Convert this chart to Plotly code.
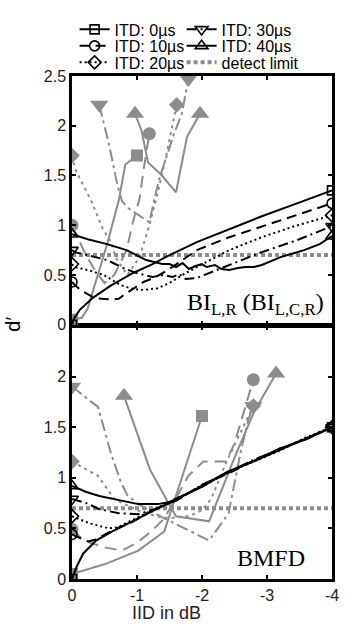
import plotly.graph_objects as go

# ---------------- data ----------------
legend_labels = ["ITD: 0µs", "ITD: 10µs", "ITD: 20µs", "ITD: 30µs", "ITD: 40µs"]
detect_label = "detect limit"
x_tickvals = [0, -1, -2, -3, -4]
x_ticktext = ["0", "-1", "-2", "-3", "-4"]
y_tickvals = [0, 0.5, 1, 1.5, 2, 2.5]
y_ticktext = ["0", "0.5", "1", "1.5", "2", "2.5"]

detect_x = [0, -4]
detect_y = [0.7, 0.7]

# top panel (BI_L,R) - black model curves
top_b0_x = [0, -0.04, -0.12, -0.32, -0.59, -0.94, -1.24, -1.44, -1.92, -2.42, -2.92, -3.42, -4.0]
top_b0_y = [0.0, 0.07, 0.15, 0.27, 0.39, 0.52, 0.61, 0.68, 0.83, 0.96, 1.09, 1.21, 1.35]
top_b10_x = [0, -0.04, -0.15, -0.3, -0.45, -0.6, -0.72, -0.8, -0.94, -1.1, -1.29, -1.5, -1.7, -1.92, -2.42, -2.92, -3.42, -3.76, -4.0]
top_b10_y = [0.43, 0.40, 0.34, 0.285, 0.26, 0.255, 0.26, 0.30, 0.36, 0.43, 0.48, 0.56, 0.65, 0.75, 0.88, 0.99, 1.10, 1.17, 1.22]
top_b20_x = [0, -0.04, -0.24, -0.49, -0.62, -0.74, -0.94, -1.1, -1.31, -1.5, -1.7, -1.92, -2.42, -2.92, -3.42, -4.0]
top_b20_y = [0.61, 0.58, 0.55, 0.50, 0.45, 0.40, 0.36, 0.35, 0.365, 0.42, 0.50, 0.58, 0.75, 0.88, 0.99, 1.10]
top_b30_x = [0, -0.04, -0.24, -0.54, -0.79, -0.99, -1.24, -1.4, -1.55, -1.65, -1.75, -1.85, -1.92, -2.42, -2.92, -3.42, -4.0]
top_b30_y = [0.75, 0.73, 0.70, 0.65, 0.57, 0.52, 0.48, 0.50, 0.48, 0.51, 0.46, 0.47, 0.47, 0.60, 0.73, 0.84, 0.99]
top_b40_x = [0, -0.24, -0.54, -0.84, -1.14, -1.39, -1.5, -1.6, -1.7, -1.8, -1.9, -2.0, -2.07, -2.2, -2.3, -2.42, -2.55, -2.67, -2.8, -2.92, -3.21, -3.57, -3.81, -4.0]
top_b40_y = [0.91, 0.86, 0.81, 0.75, 0.65, 0.61, 0.61, 0.58, 0.62, 0.56, 0.59, 0.61, 0.58, 0.60, 0.56, 0.55, 0.57, 0.58, 0.58, 0.60, 0.68, 0.75, 0.81, 0.89]

# top panel - grey curves
top_g0_x = [0, -0.15, -0.24, -0.54, -0.72, -0.82, -1.0]
top_g0_y = [0.05, 0.07, 0.16, 0.81, 1.25, 1.61, 1.70]
top_g10_x = [0, -0.2, -0.35, -0.5, -0.65, -0.84, -0.94, -1.04, -1.1, -1.19]
top_g10_y = [1.0, 0.72, 0.55, 0.42, 0.5, 0.75, 1.04, 1.27, 1.55, 1.92]
top_g20_x = [0, -0.05, -0.3, -0.47, -0.6, -0.67, -0.85, -1.04, -1.19, -1.32, -1.45, -1.61]
top_g20_y = [1.70, 1.56, 1.24, 0.97, 0.83, 0.68, 0.50, 0.68, 1.0, 1.33, 1.70, 2.21]
top_g30_x = [-0.42, -0.57, -0.7, -0.77, -0.87, -1.02, -1.19, -1.27, -1.34, -1.57, -1.69, -1.79]
top_g30_y = [2.21, 1.81, 1.40, 1.24, 1.17, 1.10, 1.03, 1.27, 1.46, 1.92, 2.12, 2.47]
top_g40_x = [-0.97, -1.07, -1.17, -1.37, -1.6, -1.77, -1.97]
top_g40_y = [2.12, 1.95, 1.63, 1.51, 1.33, 1.89, 2.12]

# bottom panel (BMFD) - black model curves
bot_b0_x = [0, -0.07, -0.17, -0.37, -0.62, -0.92, -1.27, -1.62, -2.0, -2.37, -2.86, -3.21, -3.6, -4.0]
bot_b0_y = [0.0, 0.12, 0.25, 0.38, 0.47, 0.57, 0.68, 0.79, 0.92, 1.05, 1.18, 1.28, 1.39, 1.5]
bot_b10_x = [0, -0.12, -0.25, -0.37, -0.62, -0.92, -1.27, -1.62, -2.0, -2.4, -2.8, -3.2, -3.6, -4.0]
bot_b10_y = [0.44, 0.41, 0.37, 0.39, 0.48, 0.56, 0.69, 0.78, 0.93, 1.04, 1.17, 1.29, 1.38, 1.5]
bot_b20_x = [0, -0.27, -0.57, -0.7, -0.92, -1.27, -1.62, -2.0, -2.4, -2.8, -3.2, -3.6, -4.0]
bot_b20_y = [0.62, 0.55, 0.50, 0.51, 0.58, 0.69, 0.80, 0.91, 1.06, 1.16, 1.27, 1.40, 1.5]
bot_b30_x = [0, -0.22, -0.42, -0.72, -1.02, -1.27, -1.62, -2.0, -2.4, -2.8, -3.2, -3.6, -4.0]
bot_b30_y = [0.79, 0.75, 0.69, 0.65, 0.64, 0.69, 0.78, 0.93, 1.05, 1.18, 1.28, 1.39, 1.5]
bot_b40_x = [0, -0.22, -0.42, -0.72, -1.02, -1.32, -1.5, -1.62, -2.0, -2.4, -2.8, -3.2, -3.6, -4.0]
bot_b40_y = [0.92, 0.86, 0.82, 0.78, 0.74, 0.74, 0.76, 0.80, 0.91, 1.06, 1.17, 1.29, 1.38, 1.5]

# bottom panel - grey curves
bot_g0_x = [0, -0.52, -1.02, -1.42, -2.0]
bot_g0_y = [0.05, 0.15, 0.28, 0.47, 1.61]
bot_g10_x = [0, -0.12, -0.27, -0.52, -0.77, -1.0, -1.22, -1.42, -1.6, -1.79, -2.02, -2.37, -2.5, -2.79]
bot_g10_y = [0.49, 0.42, 0.36, 0.31, 0.28, 0.36, 0.47, 0.60, 0.80, 1.02, 1.16, 1.16, 1.34, 1.97]
bot_g20_x = [0, -0.4, -0.65, -1.0, -1.3, -1.5, -1.8, -2.0, -2.14, -2.37, -2.61, -2.79]
bot_g20_y = [1.16, 1.02, 0.79, 0.68, 0.62, 0.60, 0.62, 0.68, 0.79, 1.15, 1.47, 1.71]
bot_g30_x = [0, -0.4, -0.6, -0.75, -0.85, -1.02, -1.42, -2.11, -2.41, -2.59, -2.71, -2.79]
bot_g30_y = [1.90, 1.70, 1.24, 0.96, 0.83, 0.74, 0.60, 0.38, 0.65, 1.24, 1.57, 1.71]
bot_g40_x = [-0.8, -1.2, -1.45, -1.6, -2.11, -2.5, -2.8, -3.14]
bot_g40_y = [1.81, 1.08, 0.79, 0.62, 0.57, 1.2, 1.65, 2.03]

# ---------------- styles ----------------
GREY = "#8c8c8c"
FONT = "Liberation Sans, Arial, Helvetica, sans-serif"
SERIF = "Liberation Serif, Times New Roman, serif"
dashes = ["solid", "10px,6px", "2px,3px", "10px,4px,2px,4px", "solid"]
grey_dashes = ["solid", "12px,7px", "3px,4px", "12px,4px,3px,4px", "solid"]
sym_open = ["square-open", "circle-open", "diamond-open", "triangle-down-open", "triangle-up-open"]
sym_fill = ["square", "circle", "diamond", "triangle-down", "triangle-up"]
size_open = [9, 10, 10, 11, 11]
size_fill = [12, 13, 12, 16, 16]

top_black = [(top_b0_x, top_b0_y), (top_b10_x, top_b10_y), (top_b20_x, top_b20_y),
             (top_b30_x, top_b30_y), (top_b40_x, top_b40_y)]
top_grey = [(top_g0_x, top_g0_y), (top_g10_x, top_g10_y), (top_g20_x, top_g20_y),
            (top_g30_x, top_g30_y), (top_g40_x, top_g40_y)]
bot_black = [(bot_b0_x, bot_b0_y), (bot_b10_x, bot_b10_y), (bot_b20_x, bot_b20_y),
             (bot_b30_x, bot_b30_y), (bot_b40_x, bot_b40_y)]
bot_grey = [(bot_g0_x, bot_g0_y), (bot_g10_x, bot_g10_y), (bot_g20_x, bot_g20_y),
            (bot_g30_x, bot_g30_y), (bot_g40_x, bot_g40_y)]

fig = go.Figure()


def add_panel(black, grey, xa, ya):
    # grey lines + end markers
    for i, (xs, ys) in enumerate(grey):
        fig.add_trace(go.Scatter(x=xs, y=ys, mode="lines", xaxis=xa, yaxis=ya,
                                 line=dict(color=GREY, width=2, dash=grey_dashes[i]),
                                 showlegend=False, hoverinfo="skip"))
        fig.add_trace(go.Scatter(x=[xs[0], xs[-1]], y=[ys[0], ys[-1]], mode="markers",
                                 xaxis=xa, yaxis=ya,
                                 marker=dict(symbol=sym_fill[i], size=size_fill[i], color=GREY,
                                             line=dict(width=0)),
                                 showlegend=False, hoverinfo="skip"))
    # detection limit
    fig.add_trace(go.Scatter(x=detect_x, y=detect_y, mode="lines", xaxis=xa, yaxis=ya,
                             line=dict(color=GREY, width=4, dash="4px,3px"),
                             showlegend=False, hoverinfo="skip"))
    # black lines + end markers
    for i, (xs, ys) in enumerate(black):
        fig.add_trace(go.Scatter(x=xs, y=ys, mode="lines", xaxis=xa, yaxis=ya,
                                 line=dict(color="black", width=2, dash=dashes[i]),
                                 showlegend=False, hoverinfo="skip"))
    for i, (xs, ys) in enumerate(black):
        fig.add_trace(go.Scatter(x=[xs[0], xs[-1]], y=[ys[0], ys[-1]], mode="markers",
                                 xaxis=xa, yaxis=ya,
                                 marker=dict(symbol=sym_open[i], size=size_open[i], color="black",
                                             line=dict(width=1.6, color="black")),
                                 showlegend=False, hoverinfo="skip"))


add_panel(top_black, top_grey, "x2", "y2")
add_panel(bot_black, bot_grey, "x", "y")

# legend entries (three horizontal rows of two)
legend_rows = {0: "legend", 3: "legend", 1: "legend2", 4: "legend2", 2: "legend3"}
legend_widths = {0: 62, 1: 62, 2: 62, 3: 100, 4: 100}
for i in [0, 3, 1, 4, 2]:
    fig.add_trace(go.Scatter(x=[None], y=[None], mode="lines+markers", name=legend_labels[i],
                             legend=legend_rows[i], legendwidth=legend_widths[i],
                             line=dict(color="black", width=2, dash=dashes[i]),
                             marker=dict(symbol=sym_open[i], size=size_open[i], color="black",
                                         line=dict(width=1.6, color="black"))))
fig.add_trace(go.Scatter(x=[None], y=[None], mode="lines", name=detect_label, legend="legend3",
                         legendwidth=100,
                         line=dict(color=GREY, width=4, dash="4px,3px")))

axis_common = dict(showline=True, linecolor="black", linewidth=2.5, mirror="allticks",
                   ticks="inside", ticklen=4, tickwidth=1.5, tickcolor="black",
                   showgrid=False, zeroline=False,
                   tickfont=dict(family=FONT, size=16, color="#222"))

leg_common = dict(orientation="h", xanchor="left", yanchor="middle",
                  bgcolor="rgba(0,0,0,0)", font=dict(family=FONT, size=16, color="black"),
                  itemclick=False, itemdoubleclick=False, tracegroupgap=0)

fig.update_layout(
    width=351, height=627,
    margin=dict(l=72, r=12, t=60, b=48),
    paper_bgcolor="white", plot_bgcolor="white",
    xaxis=dict(domain=[0, 1], range=[0, -4], anchor="y", tickvals=x_tickvals,
               ticktext=x_ticktext, **axis_common),
    xaxis2=dict(domain=[0, 1], range=[0, -4], anchor="y2", matches="x", tickvals=x_tickvals,
                showticklabels=False, **axis_common),
    yaxis=dict(domain=[0, 0.503], range=[0, 2.5], anchor="x", tickvals=y_tickvals[:-1],
               ticktext=y_ticktext[:-1], **axis_common),
    yaxis2=dict(domain=[0.5055, 1], range=[0, 2.5], anchor="x2", tickvals=y_tickvals,
                ticktext=y_ticktext, **axis_common),
    legend=dict(x=0.01, y=1.0925, **leg_common),
    legend2=dict(x=0.01, y=1.0597, **leg_common),
    legend3=dict(x=0.01, y=1.027, **leg_common),
    annotations=[
        dict(text="BI<sub>L,R</sub> (BI<sub>L,C,R</sub>)", xref="paper", yref="paper",
             x=0.978, y=(579 - 295) / 519, xanchor="right", yanchor="middle", showarrow=False,
             font=dict(family=SERIF, size=24, color="black")),
        dict(text="BMFD", xref="paper", yref="paper", x=(276 - 72) / 267, y=(579 - 557) / 519,
             xanchor="center", yanchor="middle", showarrow=False,
             font=dict(family=SERIF, size=24, color="black")),
        dict(text="d′", xref="paper", yref="paper", x=(12 - 72) / 267, y=(579 - 316) / 519,
             xanchor="center", yanchor="middle", textangle=-90, showarrow=False,
             font=dict(family=FONT, size=20, color="black")),
        dict(text="IID in dB", xref="paper", yref="paper", x=(169 - 72) / 267,
             y=(579 - 614) / 519, xanchor="center", yanchor="middle", showarrow=False,
             font=dict(family=FONT, size=18, color="#222")),
    ],
)

fig.write_html("out.html")
